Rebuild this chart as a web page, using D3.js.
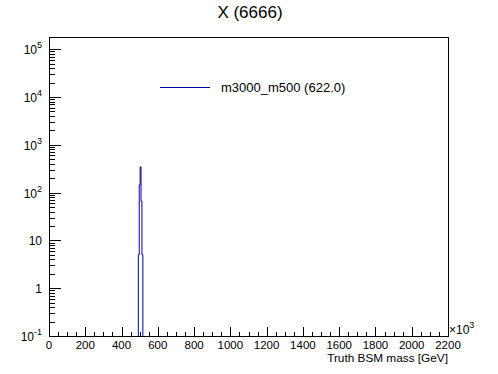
<!DOCTYPE html>
<html>
<head>
<meta charset="utf-8">
<script src="https://cdn.jsdelivr.net/npm/d3@7"></script>
<style>
  body { margin: 0; background: #fff; }
  svg { display: block; font-family: "Liberation Sans", Arial, sans-serif; }
</style>
</head>
<body>
<svg width="498" height="374"></svg>
<script>
const svg = d3.select("svg");
const width = 498, height = 374;
const margin = {left: 49, right: 50, top: 37, bottom: 38};

// histogram data (5 GeV bins around the peak)
const binEdges = [492.5, 497.5, 502.5, 507.5, 512.5, 517.5];
const binCounts = [5, 144, 345, 66, 5];
const xTicks = [0, 200, 400, 600, 800, 1000, 1200, 1400, 1600, 1800, 2000, 2200];
const yTicks = [0.1, 1, 10, 100, 1000, 10000, 100000];
const yTickLabels = [["10", "-1"], ["1", ""], ["10", ""], ["10", "2"], ["10", "3"], ["10", "4"], ["10", "5"]];
const seriesName = "m3000_m500 (622.0)";
const lineColor = "#0000a0";

const x = d3.scaleLinear().domain([0, 2200]).range([margin.left, width - margin.right]);
const y = d3.scaleLog().domain([0.1, 1.8e5]).range([height - margin.bottom, margin.top]);
const x0 = x.range()[0], x1 = x.range()[1], y0 = y.range()[0], y1 = y.range()[1];

// title
svg.append("text")
    .attr("x", 250).attr("y", 18)
    .attr("text-anchor", "middle")
    .attr("font-size", 17)
    .text("X (6666)");

// histogram outline
const pts = [[x(binEdges[0]), y0]];
binCounts.forEach((c, i) => {
    pts.push([x(binEdges[i]), y(c)]);
    pts.push([x(binEdges[i + 1]), y(c)]);
});
pts.push([x(binEdges[binEdges.length - 1]), y0]);
svg.append("path")
    .attr("d", d3.line()(pts))
    .attr("fill", "none")
    .attr("stroke", lineColor)
    .attr("stroke-width", 1);

// frame
svg.append("rect")
    .attr("x", x0 + 0.5).attr("y", y1 + 0.5)
    .attr("width", x1 - x0).attr("height", y0 - y1)
    .attr("fill", "none").attr("stroke", "#000");

// x ticks: major every 200, minor every 50
const g = svg.append("g").attr("stroke", "#000").attr("shape-rendering", "crispEdges");
d3.range(0, 2201, 50).forEach(v => {
    const len = v % 200 === 0 ? 9 : 4.5;
    g.append("line")
        .attr("x1", Math.round(x(v)) + 0.5).attr("x2", Math.round(x(v)) + 0.5)
        .attr("y1", y0).attr("y2", y0 - len);
});
svg.selectAll(".xl").data(xTicks).enter().append("text")
    .attr("x", d => x(d)).attr("y", y0 + 13)
    .attr("text-anchor", "middle")
    .attr("font-size", 11.5)
    .text(d => d);

// y ticks: major per decade, minor 2..9
yTicks.forEach((v, i) => {
    g.append("line")
        .attr("x1", x0).attr("x2", x0 + 12)
        .attr("y1", Math.round(y(v)) + 0.5).attr("y2", Math.round(y(v)) + 0.5);
    for (let k = 2; k <= 9; k++) {
        const m = v * k;
        if (m > y.domain()[1]) break;
        g.append("line")
            .attr("x1", x0).attr("x2", x0 + 6)
            .attr("y1", Math.round(y(m)) + 0.5).attr("y2", Math.round(y(m)) + 0.5);
    }
});
yTickLabels.forEach((lab, i) => {
    const t = svg.append("text")
        .attr("x", 42).attr("y", y(yTicks[i]) + 5)
        .attr("text-anchor", "end")
        .attr("font-size", 12);
    if (lab[1]) {
        t.append("tspan").text(lab[0]);
        t.append("tspan").attr("dy", -6).attr("font-size", 9).text(lab[1]);
    } else {
        t.text(lab[0]);
    }
});

// x10^3 exponent
const ex = svg.append("text").attr("x", x1 + 1).attr("y", y0 - 2).attr("font-size", 12);
ex.append("tspan").text("\u00d710");
ex.append("tspan").attr("dy", -6).attr("font-size", 9).text("3");

// x axis title
svg.append("text")
    .attr("x", x1).attr("y", 362)
    .attr("text-anchor", "end")
    .attr("font-size", 11.8)
    .text("Truth BSM mass [GeV]");

// legend
svg.append("line")
    .attr("x1", 160).attr("x2", 210).attr("y1", 87.5).attr("y2", 87.5)
    .attr("stroke", lineColor);
svg.append("text")
    .attr("x", 221).attr("y", 92)
    .attr("font-size", 13)
    .text(seriesName);
</script>
</body>
</html>
